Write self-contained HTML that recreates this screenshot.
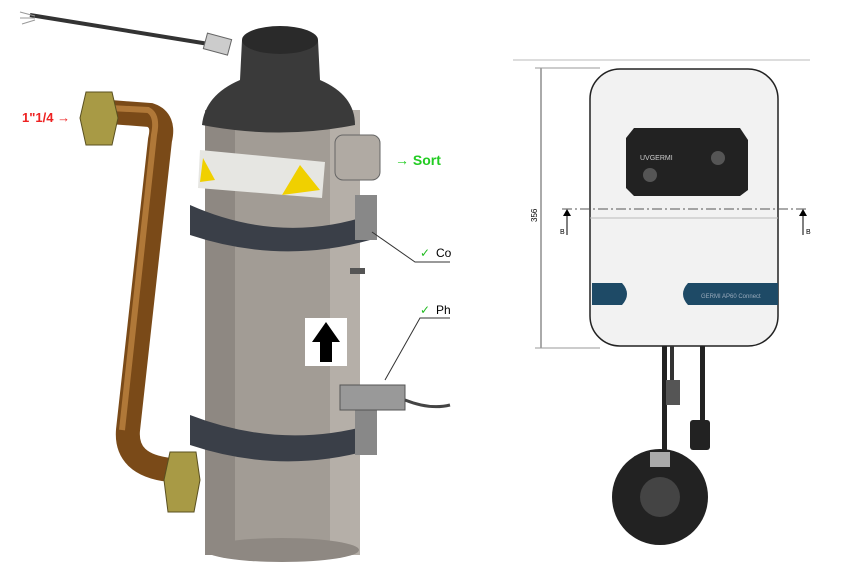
<!DOCTYPE html><html><head><style>body{margin:0;background:#fff}svg{display:block}</style></head><body>
<svg width="852" height="588" viewBox="0 0 852 588" font-family="Liberation Sans, sans-serif">
<!-- cable top left -->
<path d="M30 15 L215 45" stroke="#333" stroke-width="4" fill="none"/>
<path d="M20 12 L35 16 M20 18 L35 18 M22 24 L35 20" stroke="#999" stroke-width="1"/>
<rect x="205" y="36" width="25" height="16" fill="#ccc" stroke="#666" transform="rotate(15 217 44)"/>
<!-- pipe -->
<path d="M110 112 L150 115 Q165 120 160 140 L128 430 Q125 465 170 470" stroke="#7a4a18" stroke-width="24" fill="none" stroke-linecap="round"/>
<path d="M110 108 L148 110 Q158 115 154 135 L122 430" stroke="#b07838" stroke-width="6" fill="none"/>
<polygon points="86,92 112,92 118,118 112,145 86,145 80,118" fill="#a89a45" stroke="#5a5020"/>
<polygon points="170,452 196,452 200,480 194,512 168,512 164,480" fill="#a89a45" stroke="#5a5020"/>
<!-- cylinder -->
<rect x="205" y="110" width="155" height="445" rx="10" fill="#a29c95"/>
<rect x="205" y="110" width="30" height="445" fill="#8e8882"/>
<rect x="330" y="110" width="30" height="445" fill="#b5afa8"/>
<ellipse cx="282" cy="550" rx="77" ry="12" fill="#8e8882"/>
<!-- cap -->
<path d="M202 125 Q205 95 240 80 L242 40 Q280 20 318 40 L320 80 Q355 95 355 125 Q280 140 202 125Z" fill="#3a3a3a"/>
<ellipse cx="280" cy="40" rx="38" ry="14" fill="#2a2a2a"/>
<!-- outlet -->
<rect x="335" y="135" width="45" height="45" rx="8" fill="#b0aaa3" stroke="#666"/>
<!-- label -->
<polygon points="200,150 325,162 322,198 198,188" fill="#e6e6e2"/>
<polygon points="203,158 215,180 200,182" fill="#f0d000"/>
<polygon points="300,165 320,190 282,195" fill="#f0d000"/>
<!-- clamps -->
<path d="M190 205 Q280 245 370 215 L370 240 Q280 265 190 235Z" fill="#3a3f48"/>
<rect x="355" y="195" width="22" height="45" fill="#888"/>
<path d="M190 415 Q280 450 370 425 L370 450 Q280 475 190 445Z" fill="#3a3f48"/>
<rect x="355" y="410" width="22" height="45" fill="#888"/>
<!-- probe -->
<rect x="340" y="385" width="65" height="25" fill="#999" stroke="#555"/>
<path d="M405 400 Q430 410 450 405" stroke="#444" stroke-width="3" fill="none"/>
<rect x="350" y="268" width="15" height="6" fill="#555"/>
<!-- arrow -->
<rect x="305" y="318" width="42" height="48" fill="#fff"/>
<polygon points="326,322 312,342 320,342 320,362 332,362 332,342 340,342" fill="#000"/>
<!-- leaders -->
<path d="M372 232 L415 262 L450 262" stroke="#333" fill="none"/>
<path d="M385 380 L420 318 L450 318" stroke="#333" fill="none"/>
<text x="420" y="257" font-size="12" fill="#2b2">✓</text><text x="436" y="257" font-size="12">Co</text>
<text x="420" y="314" font-size="12" fill="#2b2">✓</text><text x="436" y="314" font-size="12">Ph</text>
<text x="395" y="165" font-size="14" font-weight="bold" fill="#2c2">→ Sort</text>
<text x="22" y="122" font-size="13" font-weight="bold" fill="#e22">1"1/4 →</text>
<!-- right device -->
<line x1="513" y1="60" x2="810" y2="60" stroke="#bbb"/>
<line x1="541" y1="68" x2="541" y2="348" stroke="#555"/>
<line x1="535" y1="68" x2="600" y2="68" stroke="#999"/><line x1="535" y1="348" x2="600" y2="348" stroke="#999"/>
<text x="537" y="222" font-size="8" transform="rotate(-90 537 222)">356</text>
<rect x="590" y="69" width="188" height="277" rx="30" fill="#f2f2f2" stroke="#222" stroke-width="1.5"/>
<line x1="590" y1="218" x2="778" y2="218" stroke="#bbb"/>
<polygon points="634,128 740,128 748,140 748,190 740,196 634,196 626,188 626,138" fill="#222"/>
<circle cx="650" cy="175" r="7" fill="#555"/><circle cx="718" cy="158" r="7" fill="#555"/>
<text x="640" y="160" font-size="7" fill="#ccc">UVGERMI</text>
<line x1="562" y1="209" x2="806" y2="209" stroke="#555" stroke-dasharray="10,3,2,3"/>
<polygon points="567,209 563,216 571,216" fill="#000"/><line x1="567" y1="214" x2="567" y2="235" stroke="#000"/>
<polygon points="803,209 799,216 807,216" fill="#000"/><line x1="803" y1="214" x2="803" y2="235" stroke="#000"/>
<text x="560" y="234" font-size="7">B</text><text x="806" y="234" font-size="7">B</text>
<path d="M592 283 L622 283 Q632 294 622 305 L592 305Z" fill="#1e4a66"/>
<path d="M688 283 L778 283 L778 305 L688 305 Q678 294 688 283Z" fill="#1e4a66"/>
<text x="701" y="298" font-size="6" fill="#9ab">GERMI AP60 Connect</text>
<!-- cables -->
<rect x="662" y="346" width="5" height="110" fill="#222"/><rect x="670" y="346" width="4" height="50" fill="#333"/>
<rect x="700" y="346" width="5" height="80" fill="#222"/>
<rect x="690" y="420" width="20" height="30" rx="3" fill="#222"/>
<rect x="666" y="380" width="14" height="25" fill="#555"/>
<circle cx="660" cy="497" r="48" fill="#222"/>
<circle cx="660" cy="497" r="20" fill="#444"/>
<rect x="650" y="452" width="20" height="15" fill="#aaa"/>
</svg></body></html>
